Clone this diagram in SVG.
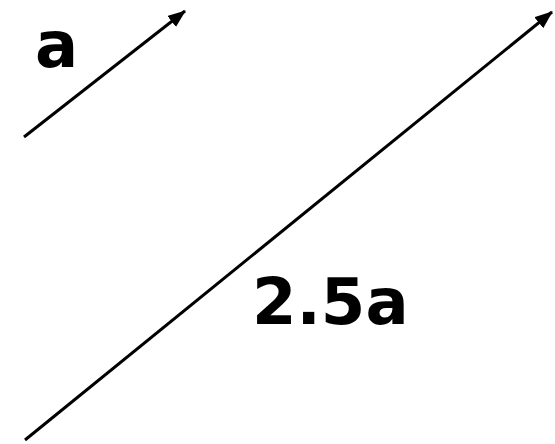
<svg xmlns="http://www.w3.org/2000/svg" width="555" height="444" viewBox="0 0 555 444">
<style>
.lbl{font-family:"DejaVu Sans",Verdana,sans-serif;font-weight:bold;font-size:64px;fill:#000}
.vec{stroke:#000;stroke-width:3;fill:none;marker-end:url(#ah)}
</style>
<defs>
<marker id="ah" markerUnits="userSpaceOnUse" markerWidth="20" markerHeight="16" refX="17" refY="7" orient="auto">
<path d="M0,0 L18,7 L0,14 Z" fill="#000"/>
</marker>
</defs>
<rect width="555" height="444" fill="#fff"/>
<g id="connectors">
<line id="vec-a" class="vec" x1="24" y1="137" x2="185" y2="11"/>
<line id="vec-25a" class="vec" x1="25" y1="440" x2="552" y2="12"/>
</g>
<g id="label-a"><text class="lbl" x="35" y="67">a</text></g>
<g id="label-25a"><text class="lbl" x="252" y="324">2.5a</text></g>
</svg>
